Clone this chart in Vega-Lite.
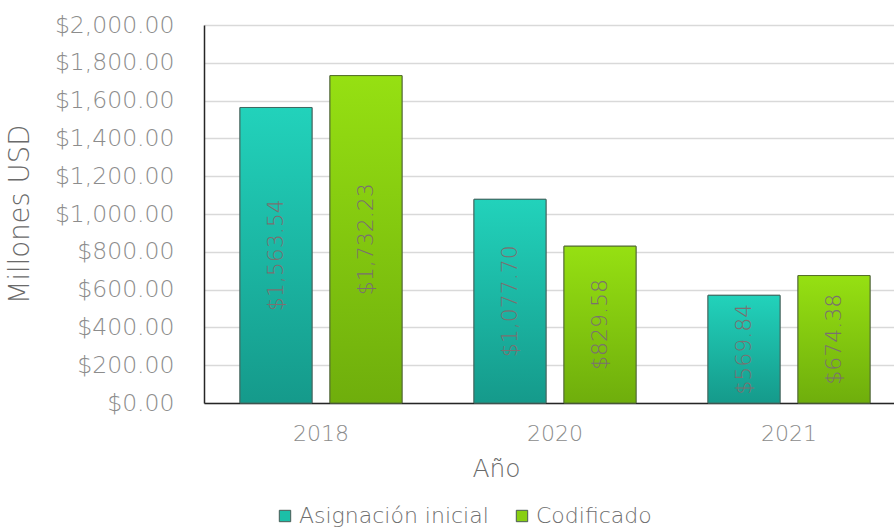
{
  "$schema": "https://vega.github.io/schema/vega-lite/v6.json",
  "autosize": "none",
  "width": 702,
  "height": 378,
  "padding": {"left": 204, "top": 25, "right": 0, "bottom": 125},
  "background": "white",
  "config": {
    "view": {"stroke": null},
    "font": "DejaVu Sans",
    "axis": {"labelFont": "DejaVu Sans", "titleFont": "DejaVu Sans", "labelFontWeight": 200, "titleFontWeight": 200, "labelColor": "#8c8c8c", "titleColor": "#6a6a6a", "labelFontSize": 23.5, "titleFontSize": 25, "labelOverlap": false},
    "legend": {"labelFont": "DejaVu Sans", "labelFontSize": 22, "labelColor": "#6e6e6e", "labelFontWeight": 200, "labelLimit": 0}
  },
  "data": {"values": [
    {"year": "2018", "serie": "Asignación inicial", "valor": 1563.54},
    {"year": "2018", "serie": "Codificado", "valor": 1732.23},
    {"year": "2020", "serie": "Asignación inicial", "valor": 1077.70},
    {"year": "2020", "serie": "Codificado", "valor": 829.58},
    {"year": "2021", "serie": "Asignación inicial", "valor": 569.84},
    {"year": "2021", "serie": "Codificado", "valor": 674.38}
  ]},
  "encoding": {
    "x": {"field": "year", "type": "nominal", "scale": {"paddingInner": 0.3077, "paddingOuter": 0.1538},
      "axis": {"title": "Año", "labelAngle": 0, "labelPadding": 20, "labelFontSize": 22, "ticks": false, "domainColor": "#262626", "domainWidth": 1.5, "titleX": 292, "titleY": 65, "titleBaseline": "middle", "titleAlign": "center"}},
    "xOffset": {"field": "serie", "type": "nominal", "scale": {"paddingInner": 0.2}},
    "y": {"field": "valor", "type": "quantitative", "scale": {"domain": [0, 2000]},
      "axis": {"title": "Millones USD", "titleFontSize": 27.5, "format": "$,.2f", "values": [0,200,400,600,800,1000,1200,1400,1600,1800,2000], "ticks": false, "labelPadding": 30, "titlePadding": 20, "domainColor": "#262626", "domainWidth": 1.5, "gridColor": "#d9d9d9", "gridWidth": 1.5}}
  },
  "layer": [
    {
      "mark": {"type": "bar", "stroke": "#4a5a55", "strokeWidth": 1},
      "encoding": {
        "color": {"field": "serie", "type": "nominal", "scale": {"domain": ["Asignación inicial", "Codificado"], "range": ["#1cbfa8", "#88cf12"]},
          "legend": {"title": null, "orient": "none", "legendX": 70, "legendY": 480, "direction": "horizontal", "symbolType": "square", "symbolSize": 130, "symbolStrokeColor": "#4a5a55", "symbolStrokeWidth": 1, "symbolOpacity": 1, "columnPadding": 22, "labelOffset": 3}}
      }
    },
    {
      "transform": [{"filter": "datum.serie === 'Asignación inicial'"}],
      "mark": {"type": "bar", "stroke": "#3f6a62", "strokeWidth": 1, "color": {"gradient": "linear", "x1": 0, "y1": 0, "x2": 0, "y2": 1, "stops": [{"offset": 0, "color": "#22d2bb"}, {"offset": 1, "color": "#159a8b"}]}}
    },
    {
      "transform": [{"filter": "datum.serie === 'Codificado'"}],
      "mark": {"type": "bar", "stroke": "#55702a", "strokeWidth": 1, "color": {"gradient": "linear", "x1": 0, "y1": 0, "x2": 0, "y2": 1, "stops": [{"offset": 0, "color": "#96e012"}, {"offset": 1, "color": "#6fae0c"}]}}
    },
    {
      "transform": [{"calculate": "datum.valor / 2", "as": "mid"}],
      "mark": {"type": "text", "angle": 270, "align": "center", "baseline": "middle", "fontSize": 22, "font": "DejaVu Sans", "fontWeight": 200, "color": "#7a7070"},
      "encoding": {
        "y": {"field": "mid", "type": "quantitative"},
        "text": {"field": "valor", "type": "quantitative", "format": "$,.2f"}
      }
    }
  ]
}
